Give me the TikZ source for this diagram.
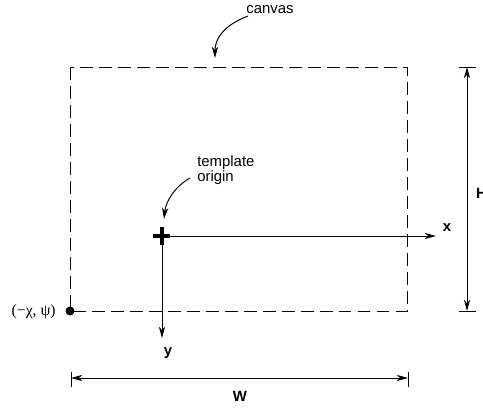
\documentclass[tikz,border=0pt]{standalone}
\usepackage{fontspec}
\setmainfont{Liberation Serif}
\setsansfont{Liberation Sans}
\usepackage{xcolor}
\usetikzlibrary{positioning,calc,arrows.meta}
\tikzset{
  lbl/.style={font=\sffamily\fontsize{10.6}{8.5}\selectfont, inner sep=0pt},
  axislbl/.style={inner sep=0pt, font=\sffamily\bfseries\fontsize{10.6}{8.5}\selectfont},
  thinline/.style={line width=0.7pt},
  dashline/.style={line width=0.7pt, dash pattern=on 9.2pt off 4.3pt},
  arrowto/.style={-{Stealth[length=8pt,width=4.4pt,inset=2.4pt]}},
  arrowboth/.style={{Stealth[length=8pt,width=4.4pt,inset=2.4pt]}-{Stealth[length=8pt,width=4.4pt,inset=2.4pt]}},
}

\begin{document}
\begin{tikzpicture}[x=0.025cm, y=-0.025cm]
\useasboundingbox (0,0) rectangle (483,408);

% --- PARAMETERS ---
\def\cL{70}     % canvas left
\def\cR{407}    % canvas right
\def\cT{67}     % canvas top
\def\cB{311}    % canvas bottom
\def\oX{162}    % template origin x
\def\oY{236}    % template origin y

% --- CANVAS ---
\coordinate (ctl) at (\cL,\cT);
\coordinate (cbr) at (\cR,\cB);
\coordinate (cbl) at (\cL,\cB);
\draw[dashline] (ctl) rectangle (cbr);
\fill (cbl) circle (3.2pt);
\node[anchor=east, inner sep=0pt, font=\fontsize{11.2}{13}\selectfont]
  (cornerlbl) at (56,312) {(−χ, ψ)};

% --- CANVAS LABEL ---
\node[lbl] (canvaslbl) at (270,9.5) {canvas};
\coordinate (canvasfrom) at (248,16);
\coordinate (canvasto) at (215,58);
\draw[thinline, arrowto]
  (canvasfrom) .. controls (222,26) and (215,40) .. (canvasto);

% --- TEMPLATE ORIGIN ---
\coordinate (orig) at (\oX,\oY);
\draw[line width=2.7pt] ($(orig)+(-8.5,0)$) -- ($(orig)+(8.5,0)$);
\draw[line width=2.7pt] ($(orig)+(0,-9)$) -- ($(orig)+(0,9)$);
\node[lbl, align=left, anchor=north west] (tmpllbl) at (197,155) {template\\origin};
\coordinate (tmplfrom) at (190,178);
\coordinate (tmplto) at (164,219);
\draw[thinline, arrowto]
  (tmplfrom) .. controls (176,186) and (166,200) .. (tmplto);

% --- AXES ---
\coordinate (xend) at (436,\oY);
\coordinate (yend) at (\oX,338);
\draw[thinline, arrowto] (orig) -- (xend);
\draw[thinline, arrowto] (orig) -- (yend);
\node[axislbl] (xlbl) at (447,228) {x};
\node[axislbl] (ylbl) at (168,353) {y};

% --- HEIGHT (right side) ---
\coordinate (htop) at (467,\cT);
\coordinate (hbot) at (467,\cB);
\draw[thinline] ($(htop)+(-8,0)$) -- ($(htop)+(9,0)$);
\draw[thinline] ($(hbot)+(-8,0)$) -- ($(hbot)+(9,0)$);
\draw[thinline, arrowboth] (htop) -- (hbot);
\node[axislbl] (hlbl) at (481.5,193) {H};

% --- WIDTH (below) ---
\coordinate (wleft) at (71,378);
\coordinate (wright) at (408,378);
\draw[thinline] ($(wleft)+(0,-6)$) -- ($(wleft)+(0,9)$);
\draw[thinline] ($(wright)+(0,-6)$) -- ($(wright)+(0,9)$);
\draw[thinline, arrowboth] (wleft) -- (wright);
\node[axislbl] (wlbl) at (240,396) {W};

\end{tikzpicture}
\end{document}
